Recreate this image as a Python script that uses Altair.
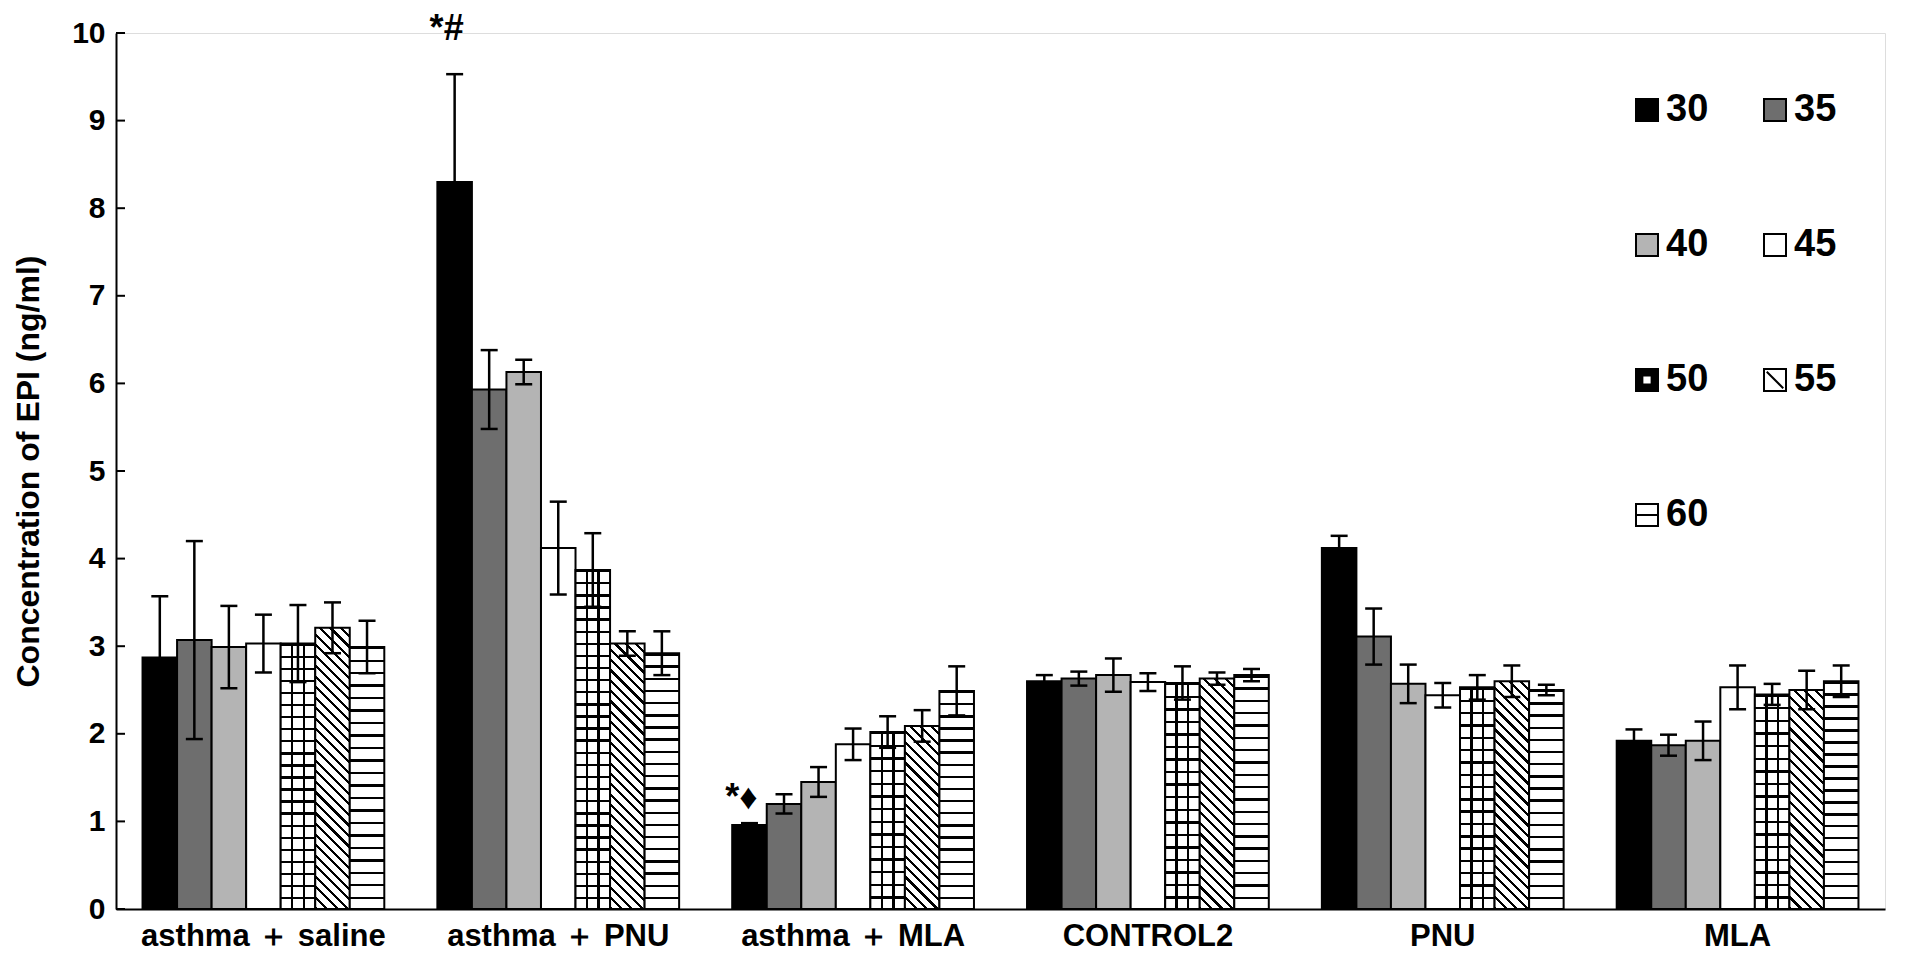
import altair as alt

groups = ["asthma ＋ saline", "asthma ＋ PNU", "asthma ＋ MLA", "CONTROL2", "PNU", "MLA"]
series = ["30", "35", "40", "45", "50", "55", "60"]

means = [
    [2.87, 3.07, 2.99, 3.03, 3.03, 3.21, 2.99],
    [8.30, 5.93, 6.13, 4.12, 3.87, 3.03, 2.92],
    [0.96, 1.20, 1.45, 1.88, 2.02, 2.09, 2.49],
    [2.60, 2.63, 2.67, 2.59, 2.58, 2.63, 2.67],
    [4.12, 3.11, 2.57, 2.44, 2.53, 2.60, 2.50],
    [1.92, 1.87, 1.92, 2.53, 2.45, 2.50, 2.60],
]
errs = [
    [0.70, 1.13, 0.47, 0.33, 0.44, 0.29, 0.30],
    [1.23, 0.45, 0.14, 0.53, 0.42, 0.14, 0.25],
    [0.02, 0.11, 0.17, 0.18, 0.18, 0.18, 0.28],
    [0.07, 0.08, 0.19, 0.10, 0.19, 0.07, 0.07],
    [0.14, 0.32, 0.22, 0.14, 0.14, 0.18, 0.06],
    [0.13, 0.12, 0.22, 0.25, 0.12, 0.22, 0.18],
]
y_ticks = [0, 1, 2, 3, 4, 5, 6, 7, 8, 9, 10]
anno_group = ["asthma ＋ PNU", "asthma ＋ MLA"]
anno_series = ["30", "30"]
anno_text = ["*#", "*♦"]
anno_y = [10.05, 1.27]

# ---- styling / layout ----
FONT = "Liberation Sans"
W, H = 1769, 876
P_IN, P_OUT = 0.18, 0.09
YMAX = 10
step = W / (len(groups) - P_IN + 2 * P_OUT)
bar_w = step * (1 - P_IN) / len(series)
px_unit = H / YMAX

solid = {"30": "#000000", "35": "#6e6e6e", "40": "#b4b4b4", "45": "#ffffff"}
BLACK, WHITE, CLEAR = "#000000", "#ffffff", "rgba(0,0,0,0)"


def band_stops(n, frac, on, off):
    stops = []
    for i in range(n):
        a = i / n
        b = min(a + frac, 1.0)
        c = (i + 1) / n
        stops += [{"offset": a, "color": on}, {"offset": b, "color": on},
                  {"offset": b, "color": off}, {"offset": c, "color": off}]
    return stops


def horiz(hpx, period=12.3, thick=2.4):
    n = max(1, round(hpx / period))
    return {"gradient": "linear", "x1": 0, "y1": 0, "x2": 0, "y2": 1,
            "stops": band_stops(n, thick / hpx, BLACK, WHITE)}


def diag(hpx, wpx=bar_w, period=10.5, thick=3.1):
    span = wpx + hpx
    n = max(1, round(span / period))
    d = wpx * wpx + hpx * hpx
    gx = span * wpx / d
    gy = -span * hpx / d
    return {"gradient": "linear", "x1": 0, "y1": 1, "x2": gx, "y2": 1 + gy,
            "stops": band_stops(n, thick / span, BLACK, WHITE)}


def vert_grid(wpx=bar_w, thick=2.4):
    t = thick / wpx / 2
    stops = [{"offset": 0, "color": CLEAR}]
    for c in (1 / 3, 2 / 3):
        stops += [{"offset": c - t, "color": CLEAR}, {"offset": c - t, "color": BLACK},
                  {"offset": c + t, "color": BLACK}, {"offset": c + t, "color": CLEAR}]
    stops.append({"offset": 1, "color": CLEAR})
    return {"gradient": "linear", "x1": 0, "y1": 0, "x2": 1, "y2": 0, "stops": stops}


rows = []
for gi, g in enumerate(groups):
    for si, s in enumerate(series):
        m = means[gi][si]
        e = errs[gi][si]
        hpx = max(m * px_unit, 1.0)
        if s in solid:
            base, over = solid[s], CLEAR
        elif s == "50":
            base, over = horiz(hpx), vert_grid()
        elif s == "55":
            base, over = diag(hpx), CLEAR
        else:
            base, over = horiz(hpx), CLEAR
        rows.append({"group": g, "series": s, "mean": m, "half": m / 2,
                     "lo": m - e, "hi": m + e, "base": base, "over": over})

data = alt.Data(values=rows)
anno = alt.Data(values=[{"group": g, "series": s, "txt": t, "y": y}
                        for g, s, t, y in zip(anno_group, anno_series, anno_text, anno_y)])
tick_data = alt.Data(values=[{"t": v} for v in y_ticks])

x_axis = alt.Axis(title=None, labelAngle=0, ticks=False, domainColor="black", domainWidth=2,
                  labelFont=FONT, labelFontSize=31, labelFontWeight="bold", labelColor="black",
                  labelPadding=12, labelLimit=0)
x_enc = alt.X("group:N", sort=groups, scale=alt.Scale(paddingInner=P_IN, paddingOuter=P_OUT), axis=x_axis)
xo_enc = alt.XOffset("series:N", sort=series)
y_scale = alt.Scale(domain=[0, YMAX], nice=False)
y_axis = alt.Axis(title="Concentration of EPI (ng/ml)", values=y_ticks, ticks=False, tickSize=0,
                  grid=False, domainColor="black", domainWidth=2,
                  labelFont=FONT, labelFontSize=30, labelFontWeight="bold", labelColor="black",
                  labelPadding=11, titleFont=FONT, titleFontSize=32, titleFontWeight="bold",
                  titleColor="black", titlePadding=26)

legend_fill = ["#000000", "#6e6e6e", "#b4b4b4", "#ffffff", "#000000", "#ffffff", "#ffffff"]
legend_shape = ["square", "square", "square", "square",
                "M-1,-1H1V1H-1Z M-0.42,-0.42V0.42H0.42V-0.42Z",
                "M-1,-1H1V1H-1Z M-0.75,-0.75L0.75,0.75",
                "M-1,-1H1V1H-1Z M-1,0H1"]
leg = alt.Legend(title=None, orient="none", legendX=1512, legendY=58, columns=2,
                 direction="horizontal",
                 symbolSize=484, symbolStrokeColor="black", symbolStrokeWidth=2,
                 labelFont=FONT, labelFontSize=38, labelFontWeight="bold", labelColor="black",
                 labelOffset=0, columnPadding=47, rowPadding=97, padding=0)

points = alt.Chart(data).mark_point(filled=True, stroke="black", strokeWidth=2, opacity=1).encode(
    x=x_enc, xOffset=xo_enc,
    y=alt.Y("half:Q", scale=y_scale, axis=y_axis),
    color=alt.Color("series:N", sort=series, scale=alt.Scale(domain=series, range=legend_fill), legend=leg),
    shape=alt.Shape("series:N", sort=series, scale=alt.Scale(domain=series, range=legend_shape), legend=leg),
)

bars = alt.Chart(data).mark_bar(stroke="black", strokeWidth=2).encode(
    x=x_enc, xOffset=xo_enc,
    y=alt.Y("mean:Q", scale=y_scale, axis=y_axis),
    color=alt.Color("base:N", scale=None),
)
overlay = alt.Chart(data).mark_bar(strokeWidth=0).encode(
    x=x_enc, xOffset=xo_enc,
    y=alt.Y("mean:Q", scale=y_scale, axis=y_axis),
    color=alt.Color("over:N", scale=None),
)
err_rule = alt.Chart(data).mark_rule(color="black", strokeWidth=2.5).encode(
    x=x_enc, xOffset=xo_enc,
    y=alt.Y("lo:Q", scale=y_scale, axis=y_axis), y2="hi:Q",
)
cap_lo = alt.Chart(data).mark_tick(color="black", thickness=2.5, size=17, opacity=1).encode(
    x=x_enc, xOffset=xo_enc, y=alt.Y("lo:Q", scale=y_scale, axis=y_axis),
)
cap_hi = alt.Chart(data).mark_tick(color="black", thickness=2.5, size=17, opacity=1).encode(
    x=x_enc, xOffset=xo_enc, y=alt.Y("hi:Q", scale=y_scale, axis=y_axis),
)
yticks = alt.Chart(tick_data).mark_rule(color="black", strokeWidth=2).encode(
    x=alt.value(0), x2=alt.value(9),
    y=alt.Y("t:Q", scale=y_scale, axis=y_axis),
)
texts = alt.Chart(anno).mark_text(font=FONT, fontSize=36, fontWeight="bold", color="black",
                                   baseline="middle", dx=-8).encode(
    x=x_enc, xOffset=xo_enc,
    y=alt.Y("y:Q", scale=y_scale, axis=y_axis),
    text="txt:N",
)

chart = alt.layer(points, bars, overlay, err_rule, cap_lo, cap_hi, yticks, texts).properties(
    width=W, height=H,
    padding={"left": 108, "top": 25, "right": 12, "bottom": 52},
    autosize=alt.AutoSizeParams(type="none"),
).configure_view(stroke=None).configure(background="white")

chart.save("out.html", embed_options={"renderer": "svg", "actions": False})
